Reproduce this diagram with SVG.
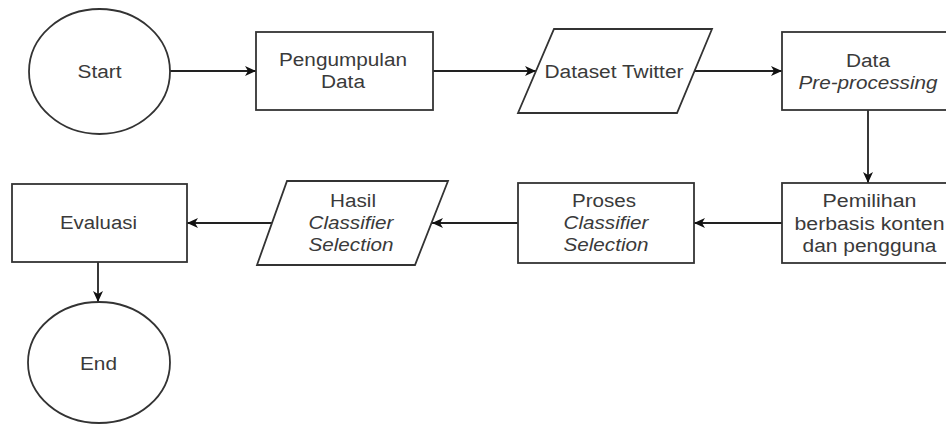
<svg xmlns="http://www.w3.org/2000/svg" width="946" height="425" viewBox="0 0 946 425">
<style>
.shape{fill:#fff;stroke:#333;stroke-width:1.8}
.t{font-family:"Liberation Sans",Arial,sans-serif;font-size:18px;fill:#3a3a3a;text-anchor:middle}
.i{font-style:italic}
.edge{fill:none;stroke:#222;stroke-width:1.8;marker-end:url(#ah)}
</style>
<defs>
<marker id="ah" markerUnits="userSpaceOnUse" markerWidth="12" markerHeight="10" refX="11" refY="5" orient="auto">
<path d="M0,0 L11,5 L0,10 L3,5 Z" fill="#111"/>
</marker>
</defs>
<rect width="946" height="425" fill="#fff"/>
<g id="connectors">
<line class="edge" x1="170" y1="71" x2="256" y2="71"/>
<line class="edge" x1="433" y1="71" x2="536" y2="71"/>
<line class="edge" x1="694.5" y1="71" x2="782" y2="71"/>
<line class="edge" x1="868" y1="110" x2="868" y2="183"/>
<line class="edge" x1="782" y1="223" x2="694" y2="223"/>
<line class="edge" x1="518" y1="223" x2="432" y2="223"/>
<line class="edge" x1="272" y1="223" x2="187" y2="223"/>
<line class="edge" x1="98" y1="262" x2="98" y2="302"/>
</g>
<g id="start">
<ellipse class="shape" cx="99.5" cy="71.5" rx="70.5" ry="62.5"/>
<text class="t" x="99.5" y="78" textLength="44" lengthAdjust="spacingAndGlyphs">Start</text>
</g>
<g id="pengumpulan">
<rect class="shape" x="256" y="32" width="177" height="78"/>
<text class="t" x="343" y="65.5" textLength="128" lengthAdjust="spacingAndGlyphs">Pengumpulan</text>
<text class="t" x="343" y="87.5" textLength="44" lengthAdjust="spacingAndGlyphs">Data</text>
</g>
<g id="dataset">
<polygon class="shape" points="554,29 712,29 677,113 518,113"/>
<text class="t" x="614" y="77.5" textLength="139" lengthAdjust="spacingAndGlyphs">Dataset Twitter</text>
</g>
<g id="preprocessing">
<rect class="shape" x="782" y="32" width="176" height="78"/>
<text class="t" x="868" y="66.5" textLength="44" lengthAdjust="spacingAndGlyphs">Data</text>
<text class="t i" x="868" y="88.5" textLength="139" lengthAdjust="spacingAndGlyphs">Pre-processing</text>
</g>
<g id="pemilihan">
<rect class="shape" x="782" y="183" width="176" height="80"/>
<text class="t" x="869.5" y="207" textLength="94" lengthAdjust="spacingAndGlyphs">Pemilihan</text>
<text class="t" x="869.5" y="229.5" textLength="150" lengthAdjust="spacingAndGlyphs">berbasis konten</text>
<text class="t" x="869.5" y="252" textLength="134" lengthAdjust="spacingAndGlyphs">dan pengguna</text>
</g>
<g id="proses">
<rect class="shape" x="518" y="183" width="176" height="80"/>
<text class="t" x="604" y="207" textLength="64" lengthAdjust="spacingAndGlyphs">Proses</text>
<text class="t i" x="606" y="229" textLength="85" lengthAdjust="spacingAndGlyphs">Classifier</text>
<text class="t i" x="606" y="251" textLength="85" lengthAdjust="spacingAndGlyphs">Selection</text>
</g>
<g id="hasil">
<polygon class="shape" points="287,181 448,181 415,265 257,265"/>
<text class="t" x="353" y="207" textLength="46" lengthAdjust="spacingAndGlyphs">Hasil</text>
<text class="t i" x="351" y="228.5" textLength="85" lengthAdjust="spacingAndGlyphs">Classifier</text>
<text class="t i" x="351" y="250.5" textLength="85" lengthAdjust="spacingAndGlyphs">Selection</text>
</g>
<g id="evaluasi">
<rect class="shape" x="12" y="184" width="175" height="78"/>
<text class="t" x="98.5" y="229" textLength="77" lengthAdjust="spacingAndGlyphs">Evaluasi</text>
</g>
<g id="end">
<ellipse class="shape" cx="99" cy="362.5" rx="71" ry="60.5"/>
<text class="t" x="98.5" y="370" textLength="37" lengthAdjust="spacingAndGlyphs">End</text>
</g>
</svg>
